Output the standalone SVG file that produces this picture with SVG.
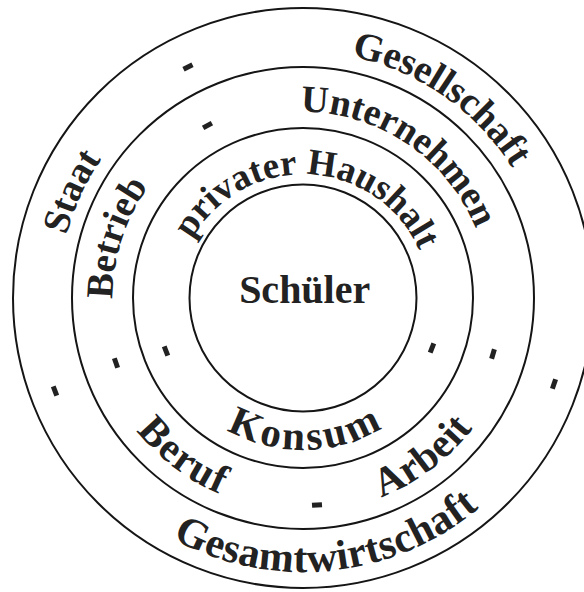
<svg xmlns="http://www.w3.org/2000/svg" xmlns:xlink="http://www.w3.org/1999/xlink" width="584" height="592" viewBox="0 0 584 592">
<style>
  .ring { fill: none; stroke: #151515; stroke-width: 2; }
  .lbl { font-family: "Liberation Serif", "Times New Roman", serif; font-weight: bold; fill: #222; }
  .dash { fill: #222; }
</style>
<defs>
  <path id="pGes" d="M99.2,156.7 A248,248 0 0 1 506.8,439.3"/>
  <path id="pUnt" d="M146.6,193.7 A188,188 0 0 1 459.4,402.3"/>
  <path id="pPri" d="M176.2,291.7 A127,127 0 0 1 429.8,304.3"/>
  <path id="pSta" d="M199.4,523.3 A248,248 0 0 1 406.6,72.7"/>
  <path id="pBet" d="M244.3,480.8 A192,192 0 0 1 361.7,115.2"/>
  <path id="pKon" d="M151,301.2 A152,152 0 0 0 455,294.8"/>
  <path id="pBer" d="M132.9,169.8 A213,213 0 0 0 473.1,426.2"/>
  <path id="pArb" d="M132.1,426.8 A214,214 0 0 0 473.9,169.2"/>
  <path id="pGsw" d="M30.4,325.7 A274,274 0 0 0 575.6,270.3"/>
  <rect id="dash" x="-5" y="-2.5" width="10" height="5"/>
</defs>
<rect width="584" height="592" fill="#fff"/>

<g id="ring-gesellschaft">
  <circle class="ring" cx="303" cy="298" r="290"/>
  <text class="lbl" font-size="39"><textPath xlink:href="#pGes" href="#pGes" startOffset="50%" text-anchor="middle">Gesellschaft</textPath></text>
  <text class="lbl" font-size="38"><textPath xlink:href="#pSta" href="#pSta" startOffset="50%" text-anchor="middle">Staat</textPath></text>
  <text class="lbl" font-size="42" letter-spacing="0.5"><textPath xlink:href="#pGsw" href="#pGsw" startOffset="50%" text-anchor="middle">Gesamtwirtschaft</textPath></text>
  <use class="dash" href="#dash" xlink:href="#dash" transform="translate(188,67) rotate(-26.5)"/>
  <use class="dash" href="#dash" xlink:href="#dash" transform="translate(55,391) rotate(69.4)"/>
  <use class="dash" href="#dash" xlink:href="#dash" transform="translate(554,384) rotate(108.9)"/>
</g>

<g id="ring-unternehmen">
  <circle class="ring" cx="303" cy="298" r="231"/>
  <text class="lbl" font-size="38"><textPath xlink:href="#pUnt" href="#pUnt" startOffset="50%" text-anchor="middle">Unternehmen</textPath></text>
  <text class="lbl" font-size="38"><textPath xlink:href="#pBet" href="#pBet" startOffset="50%" text-anchor="middle">Betrieb</textPath></text>
  <text class="lbl" font-size="41" letter-spacing="1.5"><textPath xlink:href="#pBer" href="#pBer" startOffset="50%" text-anchor="middle">Beruf</textPath></text>
  <text class="lbl" font-size="41" letter-spacing="0.5"><textPath xlink:href="#pArb" href="#pArb" startOffset="50%" text-anchor="middle">Arbeit</textPath></text>
  <use class="dash" href="#dash" xlink:href="#dash" transform="translate(207.5,125.5) rotate(-29)"/>
  <use class="dash" href="#dash" xlink:href="#dash" transform="translate(116,363) rotate(70.8)"/>
  <use class="dash" href="#dash" xlink:href="#dash" transform="translate(493,354) rotate(106.4)"/>
  <use class="dash" href="#dash" xlink:href="#dash" transform="translate(317,505) rotate(-4)"/>
</g>

<g id="ring-haushalt">
  <circle class="ring" cx="303" cy="298" r="170"/>
  <text class="lbl" font-size="37"><textPath xlink:href="#pPri" href="#pPri" startOffset="50%" text-anchor="middle">privater Haushalt</textPath></text>
  <text class="lbl" font-size="41" letter-spacing="3"><textPath xlink:href="#pKon" href="#pKon" startOffset="50%" text-anchor="middle">Konsum</textPath></text>
  <use class="dash" href="#dash" xlink:href="#dash" transform="translate(166,351) rotate(68.9)"/>
  <use class="dash" href="#dash" xlink:href="#dash" transform="translate(432,348) rotate(111.2)"/>
</g>

<g id="schueler">
  <circle class="ring" cx="303" cy="298" r="113.5"/>
  <text class="lbl" font-size="40" x="304.7" y="303" text-anchor="middle">Schüler</text>
</g>
</svg>
